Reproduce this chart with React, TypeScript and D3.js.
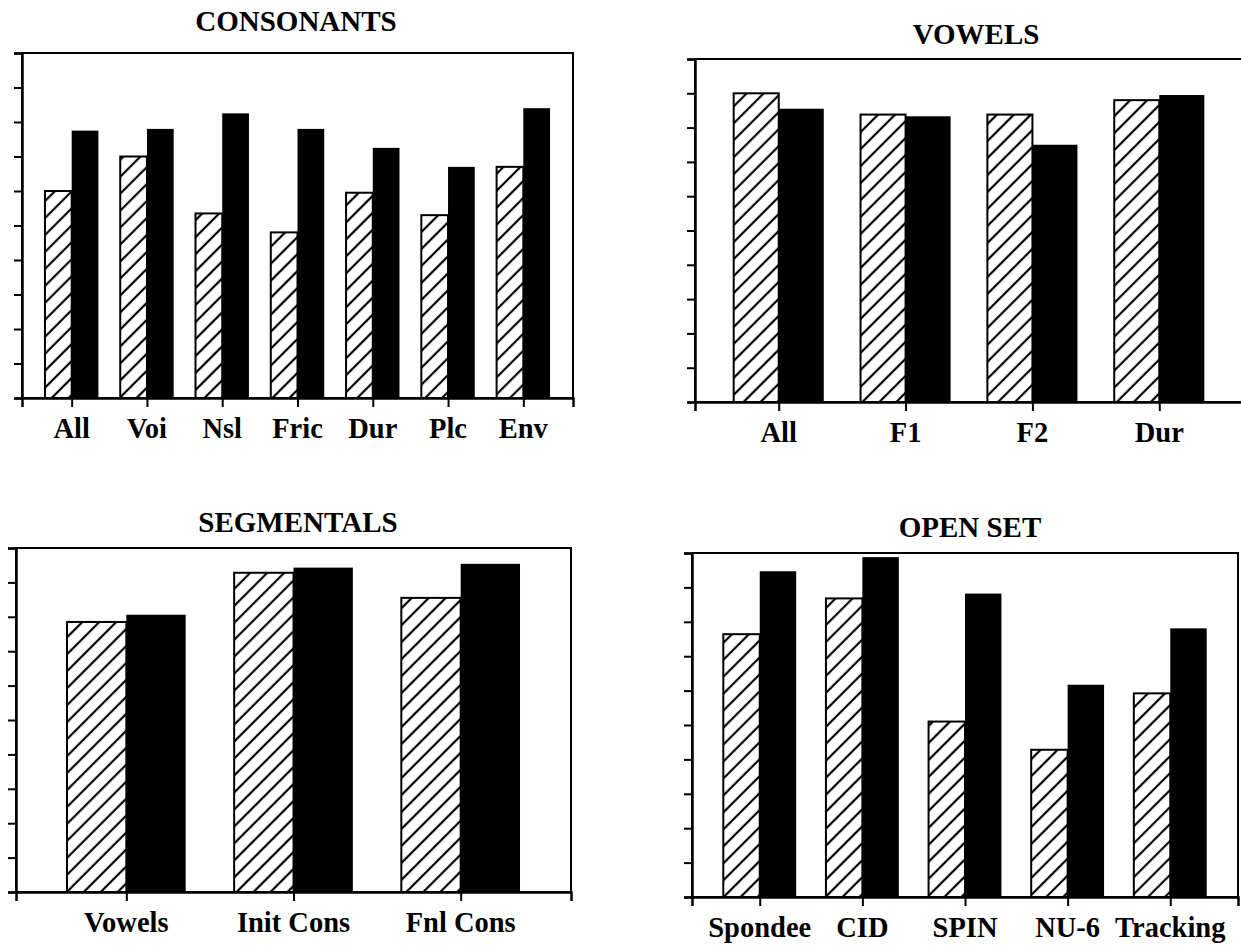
import { useRef, useEffect } from "react";
import * as d3 from "d3";

// values (percent correct, 0-100 scale)
const consonantCats = ["All", "Voi", "Nsl", "Fric", "Dur", "Plc", "Env"];
const consonantHatched = [60, 70, 53.5, 48, 59.5, 53, 67];
const consonantSolid = [77.5, 78, 82.5, 78, 72.5, 67, 84];

const vowelCats = ["All", "F1", "F2", "Dur"];
const vowelHatched = [90, 83.8, 83.8, 88];
const vowelSolid = [85.5, 83.3, 75, 89.5];

const segmentalCats = ["Vowels", "Init Cons", "Fnl Cons"];
const segmentalHatched = [78.5, 92.8, 85.5];
const segmentalSolid = [80.6, 94.3, 95.4];

const openSetCats = ["Spondee", "CID", "SPIN", "NU-6", "Tracking"];
const openSetHatched = [76.4, 86.8, 51, 42.8, 59.2];
const openSetSolid = [94.7, 98.8, 88.2, 61.7, 78.1];

const yTicks = d3.range(0, 101, 10);

interface Panel {
  title: string;
  cats: string[];
  hatched: number[];
  solid: number[];
  x0: number;
  x1: number;
  y0: number;
  y1: number;
  titleX: number;
  titleY: number;
}

const panels: Panel[] = [
  { title: "CONSONANTS", cats: consonantCats, hatched: consonantHatched, solid: consonantSolid, x0: 22, x1: 573, y0: 53, y1: 398, titleX: 296, titleY: 31 },
  { title: "VOWELS", cats: vowelCats, hatched: vowelHatched, solid: vowelSolid, x0: 695, x1: 1243, y0: 59, y1: 402, titleX: 976, titleY: 44 },
  { title: "SEGMENTALS", cats: segmentalCats, hatched: segmentalHatched, solid: segmentalSolid, x0: 16, x1: 571, y0: 548, y1: 892, titleX: 298, titleY: 532 },
  { title: "OPEN SET", cats: openSetCats, hatched: openSetHatched, solid: openSetSolid, x0: 692, x1: 1238, y0: 553, y1: 897, titleX: 970, titleY: 537 },
];

const FONT = "'Liberation Serif', 'Times New Roman', serif";

export default function App() {
  const ref = useRef<SVGSVGElement>(null);

  useEffect(() => {
    if (!ref.current) return;
    const svg = d3.select(ref.current);
    svg.selectAll("*").remove();

    // hatch pattern "/"
    const pat = svg
      .append("defs")
      .append("pattern")
      .attr("id", "hatch")
      .attr("patternUnits", "userSpaceOnUse")
      .attr("width", 12)
      .attr("height", 12)
      .attr("patternTransform", "rotate(45)");
    pat.append("rect").attr("width", 12).attr("height", 12).attr("fill", "#fff");
    pat
      .append("line")
      .attr("x1", 6)
      .attr("y1", 0)
      .attr("x2", 6)
      .attr("y2", 12)
      .attr("stroke", "#000")
      .attr("stroke-width", 2.2);

    panels.forEach((p) => {
      const x = d3.scalePoint<string>().domain(p.cats).range([p.x0, p.x1]).padding(0.66);
      const y = d3.scaleLinear().domain([0, 100]).range([p.y1, p.y0]);
      const bw = x.step() * 0.355;
      const g = svg.append("g");

      // title
      g.append("text")
        .attr("x", p.titleX)
        .attr("y", p.titleY)
        .attr("text-anchor", "middle")
        .style("font-family", FONT)
        .style("font-weight", "bold")
        .style("font-size", "29px")
        .text(p.title);

      // frame
      g.append("rect")
        .attr("x", p.x0)
        .attr("y", p.y0)
        .attr("width", p.x1 - p.x0)
        .attr("height", p.y1 - p.y0)
        .attr("fill", "none")
        .attr("stroke", "#000")
        .attr("stroke-width", 2);

      // hatched bars
      g.selectAll("rect.h")
        .data(p.cats)
        .join("rect")
        .attr("class", "h")
        .attr("x", (c) => x(c)! - bw)
        .attr("y", (_, i) => y(p.hatched[i]))
        .attr("width", bw)
        .attr("height", (_, i) => p.y1 - y(p.hatched[i]))
        .attr("fill", "url(#hatch)")
        .attr("stroke", "#000")
        .attr("stroke-width", 2);

      // solid bars
      g.selectAll("rect.s")
        .data(p.cats)
        .join("rect")
        .attr("class", "s")
        .attr("x", (c) => x(c)!)
        .attr("y", (_, i) => y(p.solid[i]))
        .attr("width", bw)
        .attr("height", (_, i) => p.y1 - y(p.solid[i]))
        .attr("fill", "#000");

      // axes
      const ya = g
        .append("g")
        .attr("transform", `translate(${p.x0},0)`)
        .call(d3.axisLeft(y).tickValues(yTicks).tickSize(8).tickFormat(() => ""));
      ya.select(".domain").attr("stroke-width", 2.5);
      ya.selectAll(".tick line").attr("stroke-width", 2);

      const xa = g
        .append("g")
        .attr("transform", `translate(0,${p.y1})`)
        .call(d3.axisBottom(x).tickSize(9).tickFormat(() => ""));
      xa.select(".domain").attr("stroke-width", 2.5);
      xa.selectAll(".tick line").attr("stroke-width", 2);

      // category labels
      g.selectAll("text.lab")
        .data(p.cats)
        .join("text")
        .attr("class", "lab")
        .attr("x", (c) => x(c)!)
        .attr("y", p.y1 + 40)
        .attr("text-anchor", "middle")
        .style("font-family", FONT)
        .style("font-weight", "bold")
        .style("font-size", "28.5px")
        .text((c) => c);
    });
  }, []);

  return (
    <svg
      ref={ref}
      width={1241}
      height={946}
      style={{ position: "absolute", left: 0, top: 0, background: "#fff" }}
    />
  );
}
